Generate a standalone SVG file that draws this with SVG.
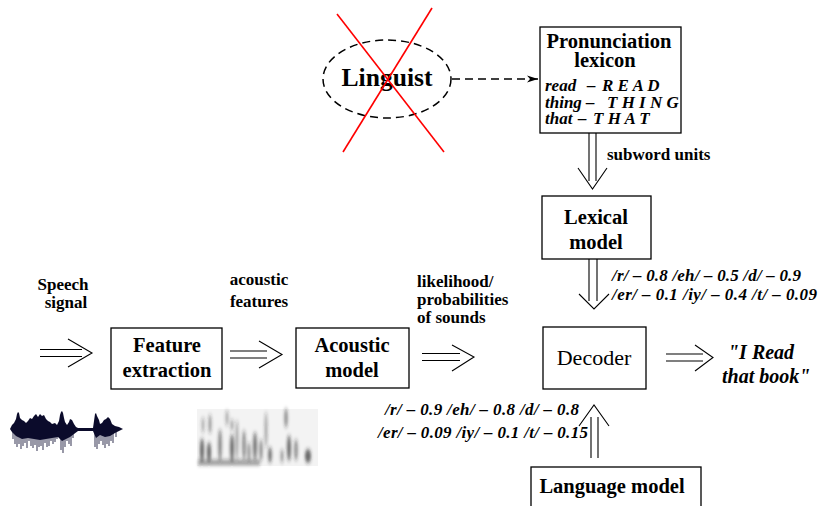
<svg xmlns="http://www.w3.org/2000/svg" width="819" height="506" viewBox="0 0 819 506">
  <style>
    text { font-family: "Liberation Serif", "DejaVu Serif", "Noto Serif", "Times New Roman", Times, serif; fill: #000; }
    .box { fill: #fff; stroke: #000; stroke-width: 1.3; }
    .lbl { font-weight: bold; font-size: 20.5px; text-anchor: middle; }
    .sm { font-weight: bold; font-size: 17px; }
    .it { font-weight: bold; font-style: italic; font-size: 17px; }
    .arr { fill: none; stroke: #000; stroke-width: 1.1; }
    .x { stroke: #f00; stroke-width: 1.6; }
  </style>
  <defs>
    <marker id="head" markerWidth="12" markerHeight="8" refX="11" refY="4" orient="auto" markerUnits="userSpaceOnUse">
      <path d="M0,0.5 L11,4 L0,7.5 L3,4 Z" fill="#000"/>
    </marker>
    <filter id="smear" x="-30%" y="-30%" width="160%" height="160%">
      <feGaussianBlur stdDeviation="1.4 2.2"/>
    </filter>
  </defs>
  <rect width="819" height="506" fill="#fff"/>

  <!-- connectors -->
  <g id="connectors">
    <!-- linguist to lexicon (dashed) -->
    <path d="M452,79 L538,79" fill="none" stroke="#000" stroke-width="1.5" stroke-dasharray="8,5" marker-end="url(#head)"/>
    <!-- speech signal in -->
    <path class="arr" d="M40,349.5 H82 M40,356.5 H82 M68,339 L92,353 L68,367"/>
    <!-- feature extraction to acoustic model -->
    <path class="arr" d="M230,351 H267 M230,358 H267 M259,341 L282,354.5 L259,368"/>
    <!-- acoustic model to decoder -->
    <path class="arr" d="M422,353.5 H460 M422,360.5 H460 M452,345 L474,357 L452,371"/>
    <!-- decoder output -->
    <path class="arr" d="M666,354 H703 M666,361 H703 M695,345 L713,357.5 L695,371"/>
    <!-- lexicon to lexical model -->
    <path class="arr" d="M589,133 V181 M596,133 V181 M578,168 L592.5,189 L607,168"/>
    <!-- lexical model to decoder -->
    <path class="arr" d="M589,259 V301 M597,259 V301 M579,294 L594,309 L609,294"/>
    <!-- language model to decoder -->
    <path class="arr" d="M591,417 V458 M598,417 V458 M579,426 L594,405 L609,426"/>
  </g>

  <!-- linguist, struck out -->
  <g id="linguist">
    <ellipse cx="387" cy="79" rx="64" ry="39" fill="none" stroke="#000" stroke-width="1.5" stroke-dasharray="8,5"/>
    <text x="387" y="86" class="lbl" style="font-size:25.6px">Linguist</text>
    <line class="x" x1="337" y1="14" x2="444" y2="152"/>
    <line class="x" x1="432" y1="8" x2="343" y2="152"/>
  </g>

  <g id="lexicon">
    <rect class="box" x="540" y="27" width="141" height="106"/>
    <text x="609" y="48" class="lbl">Pronunciation</text>
    <text x="605" y="67" class="lbl">lexicon</text>
    <text y="91" class="it"><tspan x="545">read</tspan><tspan x="587">–</tspan><tspan x="602">R E A D</tspan></text>
    <text y="108" class="it"><tspan x="545">thing</tspan><tspan x="586">–</tspan><tspan x="607">T H I N G</tspan></text>
    <text y="124" class="it"><tspan x="545">that</tspan><tspan x="578">–</tspan><tspan x="593">T H A T</tspan></text>
  </g>

  <text id="subword-label" x="607" y="160" class="sm">subword units</text>

  <g id="lexical-model">
    <rect class="box" x="542" y="196" width="109" height="63"/>
    <text x="596" y="224" class="lbl">Lexical</text>
    <text x="596" y="249" class="lbl">model</text>
  </g>

  <g id="lexical-scores">
    <text x="612" y="281" class="it" textLength="189" lengthAdjust="spacing">/r/ – 0.8 /eh/ – 0.5 /d/ – 0.9</text>
    <text x="612" y="300" class="it" textLength="205" lengthAdjust="spacing">/er/ – 0.1 /iy/ – 0.4 /t/ – 0.09</text>
  </g>

  <g id="speech-label">
    <text x="63" y="290" class="sm" text-anchor="middle">Speech</text>
    <text x="66" y="308" class="sm" text-anchor="middle">signal</text>
  </g>

  <g id="feature-extraction">
    <rect class="box" x="111" y="328" width="111" height="61"/>
    <text x="167" y="352" class="lbl">Feature</text>
    <text x="167" y="377" class="lbl">extraction</text>
  </g>

  <g id="features-label">
    <text x="259" y="285" class="sm" text-anchor="middle">acoustic</text>
    <text x="259" y="307" class="sm" text-anchor="middle">features</text>
  </g>

  <g id="acoustic-model">
    <rect class="box" x="296" y="328" width="113" height="60"/>
    <text x="352" y="352" class="lbl">Acoustic</text>
    <text x="352" y="377" class="lbl">model</text>
  </g>

  <g id="likelihood-label">
    <text x="417" y="287" class="sm">likelihood/</text>
    <text x="417" y="305" class="sm">probabilities</text>
    <text x="417" y="323" class="sm">of sounds</text>
  </g>

  <g id="decoder">
    <rect class="box" x="543" y="327" width="103" height="62"/>
    <text x="594" y="365" style="font-size:22px;text-anchor:middle">Decoder</text>
  </g>

  <g id="output">
    <text x="728" y="359" class="it" style="font-size:20px">"I Read</text>
    <text x="722" y="383" class="it" style="font-size:20px">that book"</text>
  </g>

  <g id="language-scores">
    <text x="385" y="415" class="it" textLength="194" lengthAdjust="spacing">/r/ – 0.9 /eh/ – 0.8 /d/ – 0.8</text>
    <text x="378" y="438" class="it" textLength="210" lengthAdjust="spacing">/er/ – 0.09 /iy/ – 0.1 /t/ – 0.15</text>
  </g>

  <g id="language-model">
    <rect class="box" x="531" y="467" width="170" height="50"/>
    <text x="612" y="493" class="lbl">Language model</text>
  </g>

  <!-- speech waveform -->
  <g id="waveform">
    <g stroke="#55556e" stroke-width="1.2">
      <path d="M13,430 V439 M15,430 V444 M17,430 V447 M19,430 V444 M21,430 V449 M23,430 V446 M25,430 V443 M27,430 V448 M29,430 V441 M31,430 V446 M33,430 V448 M35,430 V445 M37,430 V451 M39,430 V447 M41,430 V446 M43,430 V450 M45,430 V443 M47,430 V447 M49,430 V446 M51,430 V441 M53,430 V444 M55,430 V442 M57,430 V439 M61,430 V450 M63,430 V453 M65,430 V447 M67,430 V441 M69,430 V444 M71,430 V446 M73,430 V438 M95,430 V447 M97,430 V449 M99,430 V444 M101,430 V441 M103,430 V445 M105,430 V448 M107,430 V444 M109,430 V446 M111,430 V441 M113,430 V443 M116,430 V437"/>
    </g>
    <path fill="#0b0b2b" d="M10,429 L12,425 L14,423 L16,419 L17,414 L18,412 L19,413 L20,418 L22,420 L24,421 L26,423 L28,421 L30,418 L32,419 L34,416 L36,414 L38,417 L40,414 L42,416 L44,415 L46,419 L48,421 L50,422 L52,424 L55,423 L57,425 L59,421 L60,415 L61,412 L62,411 L63,413 L64,418 L65,422 L67,425 L69,422 L70,419 L72,420 L74,424 L76,427 L78,428 L93,428 L94,421 L95,414 L96,413 L97,416 L99,420 L100,424 L102,423 L104,420 L106,419 L108,417 L110,419 L112,424 L115,426 L119,427 L123,429 L119,431 L115,433 L110,436 L105,437 L100,435 L96,438 L93,431 L78,431 L74,434 L70,437 L66,439 L62,441 L58,437 L52,438 L46,439 L40,440 L34,439 L28,438 L22,439 L16,436 L12,432 Z"/>
  </g>

  <!-- spectrogram -->
  <g id="spectrogram">
    <rect x="197" y="409" width="121" height="57" fill="#f3f3f3"/>
    <g filter="url(#smear)" fill="#262626">
      <ellipse cx="202" cy="450" rx="2" ry="12" opacity="0.7"/>
      <ellipse cx="203" cy="425" rx="1.5" ry="8" opacity="0.35"/>
      <ellipse cx="209" cy="452" rx="2" ry="10" opacity="0.7"/>
      <ellipse cx="210" cy="424" rx="1.5" ry="10" opacity="0.45"/>
      <ellipse cx="220" cy="445" rx="1.8" ry="16" opacity="0.55"/>
      <ellipse cx="227" cy="418" rx="1.6" ry="8" opacity="0.35"/>
      <ellipse cx="232" cy="448" rx="2" ry="14" opacity="0.65"/>
      <ellipse cx="232" cy="425" rx="1.5" ry="6" opacity="0.4"/>
      <ellipse cx="237" cy="440" rx="1.2" ry="20" opacity="0.45"/>
      <ellipse cx="244" cy="445" rx="1.8" ry="15" opacity="0.5"/>
      <ellipse cx="249" cy="452" rx="1.6" ry="10" opacity="0.45"/>
      <ellipse cx="255" cy="446" rx="2" ry="14" opacity="0.6"/>
      <ellipse cx="261" cy="450" rx="1.6" ry="11" opacity="0.5"/>
      <ellipse cx="266" cy="430" rx="1.4" ry="18" opacity="0.4"/>
      <ellipse cx="270" cy="455" rx="1.8" ry="8" opacity="0.65"/>
      <ellipse cx="282" cy="456" rx="1.5" ry="7" opacity="0.45"/>
      <ellipse cx="286" cy="418" rx="1.6" ry="10" opacity="0.55"/>
      <ellipse cx="289" cy="448" rx="2" ry="13" opacity="0.65"/>
      <ellipse cx="296" cy="450" rx="1.8" ry="11" opacity="0.5"/>
      <ellipse cx="308" cy="456" rx="3" ry="7" opacity="0.7"/>
      <rect x="198" y="460" width="62" height="5" opacity="0.45"/>
    </g>
  </g>
</svg>
